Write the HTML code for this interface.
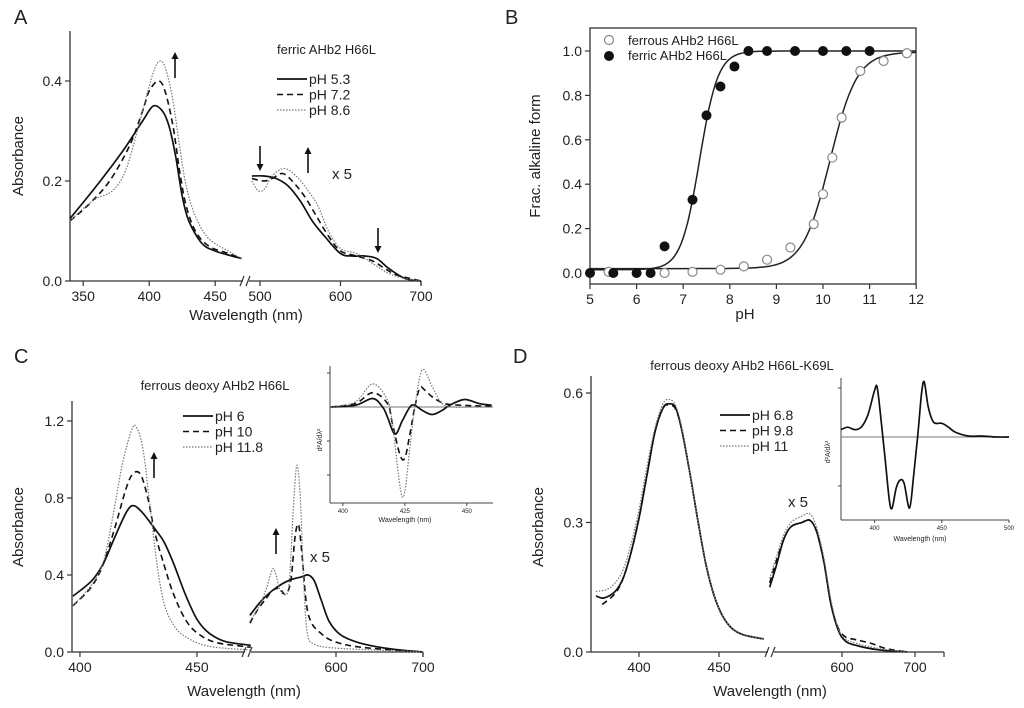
<!DOCTYPE html>
<html><head><meta charset="utf-8"><style>
html,body{margin:0;padding:0;background:#fff}
svg{display:block}
text{font-family:"Liberation Sans",Arial,sans-serif;fill:#222}
</style></head><body>
<svg id="fig" width="1024" height="708" viewBox="0 0 1024 708" xmlns="http://www.w3.org/2000/svg"></svg>
<script>
// ---------- DATA ----------
// Panel A (ferric AHb2 H66L)
const aSolidLx=[340,360,380,395,403,410,415,420,425,430,440,450,460,470];
const aSolidLy=[0.125,0.19,0.26,0.32,0.35,0.34,0.31,0.25,0.17,0.12,0.075,0.06,0.052,0.045];
const aDashLx=[340,355,370,385,395,400,407,412,418,423,428,435,445,460,470];
const aDashLy=[0.12,0.155,0.2,0.27,0.34,0.38,0.40,0.38,0.31,0.22,0.15,0.10,0.07,0.055,0.045];
const aDotLx=[340,350,360,372,382,392,400,405,409,413,418,423,428,435,445,460,470];
const aDotLy=[0.12,0.145,0.165,0.18,0.22,0.31,0.39,0.43,0.44,0.42,0.36,0.27,0.19,0.13,0.085,0.06,0.045];
const aSolidRx=[490,505,520,535,550,565,580,600,615,630,645,660,680,700];
const aSolidRy=[0.21,0.21,0.205,0.19,0.16,0.12,0.09,0.055,0.05,0.05,0.045,0.025,0.005,0];
const aDashRx=[490,505,515,528,540,555,570,585,600,620,640,655,670,700];
const aDashRy=[0.205,0.2,0.205,0.215,0.2,0.17,0.13,0.09,0.06,0.05,0.04,0.025,0.012,0];
const aDotRx=[490,498,506,515,530,545,560,572,585,600,620,640,660,680,700];
const aDotRy=[0.2,0.18,0.185,0.21,0.225,0.21,0.18,0.15,0.10,0.065,0.055,0.035,0.015,0.005,0];
// Panel B
const bFerricPH=[5,5.5,6,6.3,6.6,7.2,7.5,7.8,8.1,8.4,8.8,9.4,10,10.5,11];
const bFerricFrac=[0,0,0,0,0.12,0.33,0.71,0.84,0.93,1,1,1,1,1,1];
const bFerrousPH=[5.4,6.6,7.2,7.8,8.3,8.8,9.3,9.8,10,10.2,10.4,10.8,11.3,11.8];
const bFerrousFrac=[0.005,0,0.005,0.015,0.03,0.06,0.115,0.22,0.355,0.52,0.70,0.91,0.955,0.99];
const bFerricFit=[7.35,2.2,0.015,1.0];   // pKa, n, bottom, top
const bFerrousFit=[10.15,1.5,0.02,0.995];
// Panel C
const cSolidLx=[397,405,410,415,420,423,427,432,436,440,445,450,455,462,473];
const cSolidLy=[0.29,0.37,0.46,0.6,0.73,0.76,0.72,0.64,0.57,0.46,0.3,0.17,0.1,0.055,0.035];
const cDashLx=[397,405,410,415,420,423,426,429,432,436,440,445,450,458,473];
const cDashLy=[0.24,0.34,0.46,0.65,0.86,0.93,0.92,0.8,0.62,0.45,0.3,0.17,0.1,0.05,0.025];
const cDotLx=[397,405,410,414,418,422,424,427,430,433,436,440,445,455,473];
const cDotLy=[0.24,0.35,0.47,0.7,0.97,1.15,1.17,1.05,0.75,0.45,0.25,0.14,0.08,0.03,0.01];
const cSolidRx=[501,515,530,545,560,568,575,583,592,605,625,650,675,700];
const cSolidRy=[0.19,0.27,0.33,0.37,0.39,0.4,0.37,0.27,0.16,0.09,0.05,0.025,0.01,0];
const cDashRx=[501,510,520,527,535,542,548,553,557,561,566,572,582,595,620,660,700];
const cDashRy=[0.15,0.22,0.28,0.32,0.33,0.3,0.37,0.6,0.66,0.5,0.25,0.15,0.1,0.06,0.03,0.012,0];
const cDotRx=[501,512,520,527,531,535,540,546,551,555,559,563,567,575,600,650,700];
const cDotRy=[0.16,0.24,0.33,0.43,0.4,0.33,0.3,0.35,0.75,0.97,0.8,0.35,0.1,0.04,0.02,0.01,0];
// Panel C inset (second derivative, tick units)
const ciSolidX=[395,405,412,416,418,421,424,427,429,432,436,440,443,449,455,460];
const ciSolidY=[0,0.05,0.25,0,-0.3,-0.8,-0.4,0,0.05,-0.1,-0.22,-0.1,0.05,0.22,0.1,0.05];
const ciDashX=[395,405,412,418,420,423,425,427,429,431,433,436,441,448,460];
const ciDashY=[0,0.1,0.42,0.1,-0.5,-1.4,-1.5,-0.8,0,0.56,0.5,0.3,0.1,0.05,0.02];
const ciDotX=[395,405,412,418,420,424,427,429,432,436,440,445,452,460];
const ciDotY=[0,0.15,0.68,0.2,-0.5,-2.65,-1.2,0,1.09,0.6,0.1,0,0,0];
// Panel D
const dSolidLx=[373,378,385,390,395,400,405,410,415,419,423,427,432,437,442,447,452,458,465,478];
const dSolidLy=[0.13,0.125,0.14,0.17,0.23,0.31,0.41,0.51,0.565,0.575,0.565,0.51,0.41,0.3,0.2,0.13,0.085,0.055,0.04,0.03];
const dDashLx=[377,385,390,395,400,405,410,415,419,423,427,432,437,442,447,452,458,465,478];
const dDashLy=[0.11,0.135,0.17,0.23,0.31,0.41,0.51,0.565,0.572,0.562,0.51,0.41,0.3,0.2,0.13,0.085,0.055,0.04,0.03];
const dDotLx=[373,380,385,390,395,400,405,410,415,419,423,427,432,437,442,447,452,458,465,478];
const dDotLy=[0.14,0.145,0.16,0.19,0.25,0.33,0.43,0.52,0.575,0.585,0.57,0.515,0.41,0.3,0.2,0.13,0.085,0.055,0.04,0.03];
const dSolidRx=[501,510,520,530,545,556,565,575,585,595,605,620,650,690];
const dSolidRy=[0.15,0.2,0.26,0.29,0.30,0.305,0.28,0.21,0.11,0.05,0.025,0.015,0.005,0];
const dDashRx=[501,510,520,530,545,556,565,575,585,595,605,620,640,660,690];
const dDashRy=[0.16,0.21,0.26,0.29,0.30,0.305,0.28,0.21,0.11,0.055,0.035,0.028,0.02,0.008,0];
const dDotRx=[501,510,520,530,545,556,565,575,585,595,605,620,650,690];
const dDotRy=[0.17,0.22,0.27,0.3,0.315,0.32,0.29,0.22,0.12,0.055,0.03,0.02,0.008,0];
// Panel D inset
const diX=[375,380,385,390,395,400,402,405,408,411,413,416,419,422,426,429,432,435,437,440,444,450,455,460,470,480,490,500];
const diY=[0.15,0.2,0.15,0.2,0.45,0.95,1.0,0.3,-0.5,-1.3,-1.45,-1.05,-0.88,-0.95,-1.45,-0.8,0,0.9,1.12,0.6,0.3,0.28,0.2,0.1,0.02,0.02,0,0];
// Tick labels
const aXTicks=[350,400,450,500,600,700];
const aYTicks=[0,0.2,0.4];
const bXTicks=[5,6,7,8,9,10,11,12];
const bYTicks=[0,0.2,0.4,0.6,0.8,1.0];
const cXTicks=[400,450,600,700];
const cYTicks=[0,0.4,0.8,1.2];
const dXTicks=[400,450,600,700];
const dYTicks=[0,0.3,0.6];

// ---------- DRAW ----------
const NS='http://www.w3.org/2000/svg';
const svg=document.getElementById('fig');
function el(tag,attrs,parent){const e=document.createElementNS(NS,tag);for(const k in attrs)e.setAttribute(k,attrs[k]);(parent||svg).appendChild(e);return e;}
function txt(x,y,s,size,anchor,parent,rot){const t=el('text',{x:x,y:y,'font-size':size,'text-anchor':anchor||'start'},parent);if(rot)t.setAttribute('transform','rotate(-90 '+x+' '+y+')');t.textContent=s;return t;}
function smooth(pts){let d='M'+pts[0][0].toFixed(1)+','+pts[0][1].toFixed(1);for(let i=0;i<pts.length-1;i++){const p0=pts[i-1]||pts[i],p1=pts[i],p2=pts[i+1],p3=pts[i+2]||p2;const c1=[p1[0]+(p2[0]-p0[0])/6,p1[1]+(p2[1]-p0[1])/6],c2=[p2[0]-(p3[0]-p1[0])/6,p2[1]-(p3[1]-p1[1])/6];d+='C'+c1[0].toFixed(1)+','+c1[1].toFixed(1)+' '+c2[0].toFixed(1)+','+c2[1].toFixed(1)+' '+p2[0].toFixed(1)+','+p2[1].toFixed(1);}return d;}
const STY={solid:{stroke:'#111','stroke-width':1.7},dash:{stroke:'#111','stroke-width':1.6,'stroke-dasharray':'6,4'},dot:{stroke:'#777','stroke-width':1.2,'stroke-dasharray':'1.5,1.5'}};
function curve(xs,ys,fx,fy,style,name){const pts=xs.map((x,i)=>[fx(x),fy(ys[i])]);const a=Object.assign({d:smooth(pts),fill:'none'},STY[style]);const p=el('path',a);

return p;}
function arrow(x,y1,y2,name){const g=el('g',{});


const dir=y2<y1?-1:1;el('line',{x1:x,y1:y1,x2:x,y2:y2-dir*6,stroke:'#111','stroke-width':1.6},g);el('polygon',{points:(x-3.5)+','+(y2-dir*7)+' '+(x+3.5)+','+(y2-dir*7)+' '+x+','+y2,fill:'#111'},g);}
function legend(x,y,labels,styles,prefix){labels.forEach((l,i)=>{const g=el('g',{});


el('line',Object.assign({x1:x,y1:y+i*15.5,x2:x+30,y2:y+i*15.5},STY[styles[i]]),g);txt(x+32,y+i*15.5+5,l,14,'start',g);});}
function brokenAxis(o){ // o: x0,x1,y0,yTop,brk,fx,xt,fy,yt,yFmt
 const g=el('g',{});
 
 
 el('line',{x1:o.x0,y1:o.yTop,x2:o.x0,y2:o.y0,stroke:'#333','stroke-width':1.3},g);
 el('line',{x1:o.x0,y1:o.y0,x2:o.brk-3,y2:o.y0,stroke:'#333','stroke-width':1.3},g);
 el('line',{x1:o.brk+3,y1:o.y0,x2:o.x1,y2:o.y0,stroke:'#333','stroke-width':1.3},g);
 el('line',{x1:o.brk-6,y1:o.y0+5,x2:o.brk-2,y2:o.y0-5,stroke:'#333','stroke-width':1.2},g);
 el('line',{x1:o.brk,y1:o.y0+5,x2:o.brk+4,y2:o.y0-5,stroke:'#333','stroke-width':1.2},g);
 o.xt.forEach(v=>{const x=o.fx(v);el('line',{x1:x,y1:o.y0,x2:x,y2:o.y0+5,stroke:'#333','stroke-width':1.2},g);txt(x,o.y0+20,String(v),14,'middle',g);});
 el('line',{x1:o.x1,y1:o.y0,x2:o.x1,y2:o.y0+5,stroke:'#333','stroke-width':1.2},g);
 o.yt.forEach(v=>{const y=o.fy(v);el('line',{x1:o.x0-5,y1:y,x2:o.x0,y2:y,stroke:'#333','stroke-width':1.2},g);txt(o.x0-8,y+5,v.toFixed(1),14,'end',g);});
}

// ---- Panel A ----
const aFx=v=>v<=480?70+(v-340)*1.32:260+(v-500)*0.805;
const aFy=v=>281-v*500;
txt(14,24,'A',20,'start');
brokenAxis({name:'panel-a',x0:70,x1:421,y0:281,yTop:31,brk:246,fx:aFx,xt:aXTicks,fy:aFy,yt:aYTicks});
txt(23,156,'Absorbance',15,'middle',null,true);
txt(246,320,'Wavelength (nm)',15,'middle');
txt(277,54,'ferric AHb2 H66L',13,'start');
legend(277,79,['pH 5.3','pH 7.2','pH 8.6'],['solid','dash','dot'],'panel-a');
curve(aSolidLx,aSolidLy,aFx,aFy,'solid','a-ph53-soret');curve(aDashLx,aDashLy,aFx,aFy,'dash','a-ph72-soret');curve(aDotLx,aDotLy,aFx,aFy,'dot','a-ph86-soret');
curve(aSolidRx,aSolidRy,aFx,aFy,'solid','a-ph53-visible');curve(aDashRx,aDashRy,aFx,aFy,'dash','a-ph72-visible');curve(aDotRx,aDotRy,aFx,aFy,'dot','a-ph86-visible');
arrow(175,78,52,'a-arrow-soret');arrow(260,146,171,'a-arrow-500');arrow(308,173,147,'a-arrow-535');arrow(378,228,253,'a-arrow-640');
txt(332,179,'x 5',15,'start');

// ---- Panel B ----
const bFx=v=>590+(v-5)*46.6;
const bFy=v=>273-v*222;
txt(505,24,'B',20,'start');
(function(){const g=el('g',{});


el('rect',{x:590,y:28,width:326,height:256,fill:'none',stroke:'#333','stroke-width':1.3},g);
bXTicks.forEach(v=>{const x=bFx(v);el('line',{x1:x,y1:284,x2:x,y2:289,stroke:'#333','stroke-width':1.2},g);txt(x,304,String(v),14,'middle',g);});
bYTicks.forEach(v=>{const y=bFy(v);el('line',{x1:585,y1:y,x2:590,y2:y,stroke:'#333','stroke-width':1.2},g);txt(582,y+5,v.toFixed(1),14,'end',g);});})();
txt(540,156,'Frac. alkaline form',15,'middle',null,true);
txt(745,319,'pH',15,'middle');
function fit(p,x){return p[2]+(p[3]-p[2])/(1+Math.pow(10,p[1]*(p[0]-x)));}
function fitPath(p,name){let d='';for(let x=5;x<=12.001;x+=0.05){d+=(d?'L':'M')+bFx(x).toFixed(1)+','+bFy(fit(p,x)).toFixed(1);}const e=el('path',{d:d,fill:'none',stroke:'#222','stroke-width':1.5});

}
fitPath(bFerricFit,'ferric-fit-curve');fitPath(bFerrousFit,'ferrous-fit-curve');
bFerrousPH.forEach((x,i)=>{const c=el('circle',{cx:bFx(x),cy:bFy(bFerrousFrac[i]),r:4.5,fill:'#fff',stroke:'#888','stroke-width':1.2});

});
bFerricPH.forEach((x,i)=>{const c=el('circle',{cx:bFx(x),cy:bFy(bFerricFrac[i]),r:5,fill:'#111'});

});
(function(){const g=el('g',{});


el('circle',{cx:609,cy:40,r:4.5,fill:'#fff',stroke:'#888','stroke-width':1.2},g);txt(628,45,'ferrous AHb2 H66L',13,'start',g);
el('circle',{cx:609,cy:56,r:5,fill:'#111'},g);txt(628,60,'ferric AHb2 H66L',13,'start',g);})();

// ---- Panel C ----
const cFx=v=>v<=480?72+(v-396.6)*2.34:336+(v-600)*0.87;
const cFy=v=>652-v*192.5;
txt(14,363,'C',20,'start');
brokenAxis({name:'panel-c',x0:72,x1:423,y0:652,yTop:401,brk:248,fx:cFx,xt:cXTicks,fy:cFy,yt:cYTicks});
txt(23,527,'Absorbance',15,'middle',null,true);
txt(244,696,'Wavelength (nm)',15,'middle');
txt(215,390,'ferrous deoxy AHb2 H66L',13,'middle');
legend(183,416,['pH 6','pH 10','pH 11.8'],['solid','dash','dot'],'panel-c');
curve(cSolidLx,cSolidLy,cFx,cFy,'solid','c-ph6-soret');curve(cDashLx,cDashLy,cFx,cFy,'dash','c-ph10-soret');curve(cDotLx,cDotLy,cFx,cFy,'dot','c-ph118-soret');
curve(cSolidRx,cSolidRy,cFx,cFy,'solid','c-ph6-visible');curve(cDashRx,cDashRy,cFx,cFy,'dash','c-ph10-visible');curve(cDotRx,cDotRy,cFx,cFy,'dot','c-ph118-visible');
arrow(154,478,452,'c-arrow-soret');arrow(276,554,528,'c-arrow-visible');
txt(310,562,'x 5',15,'start');
// inset C
const ciFx=v=>330+(v-394.8)*2.48;
const ciFy=v=>407-v*34;
(function(){const g=el('g',{});


el('line',{x1:330,y1:366,x2:330,y2:503,stroke:'#444','stroke-width':1},g);
el('line',{x1:330,y1:503,x2:493,y2:503,stroke:'#444','stroke-width':1},g);
el('line',{x1:330,y1:407,x2:493,y2:407,stroke:'#777','stroke-width':1},g);
[400,425,450].forEach(v=>{const x=ciFx(v);el('line',{x1:x,y1:503,x2:x,y2:506,stroke:'#444'},g);txt(x,513,String(v),6,'middle',g);});
[1,-1,-2].forEach(v=>{el('line',{x1:327,y1:ciFy(v),x2:330,y2:ciFy(v),stroke:'#444'},g);});
txt(405,522,'Wavelength (nm)',7,'middle',g);
txt(322,440,'d²A/dλ²',7,'middle',g,true);})();
curve(ciSolidX,ciSolidY,ciFx,ciFy,'solid','c-inset-ph6');curve(ciDashX,ciDashY,ciFx,ciFy,'dash','c-inset-ph10');curve(ciDotX,ciDotY,ciFx,ciFy,'dot','c-inset-ph118');

// ---- Panel D ----
const dFx=v=>v<=490?639+(v-400)*1.6:842+(v-600)*0.73;
const dFy=v=>652-v*431.7;
txt(513,363,'D',20,'start');
brokenAxis({name:'panel-d',x0:591,x1:944,y0:652,yTop:376,brk:771,fx:dFx,xt:dXTicks,fy:dFy,yt:dYTicks});
txt(543,527,'Absorbance',15,'middle',null,true);
txt(770,696,'Wavelength (nm)',15,'middle');
txt(742,370,'ferrous deoxy AHb2 H66L-K69L',13,'middle');
legend(720,415,['pH 6.8','pH 9.8','pH 11'],['solid','dash','dot'],'panel-d');
curve(dSolidLx,dSolidLy,dFx,dFy,'solid','d-ph68-soret');curve(dDashLx,dDashLy,dFx,dFy,'dash','d-ph98-soret');curve(dDotLx,dDotLy,dFx,dFy,'dot','d-ph11-soret');
curve(dSolidRx,dSolidRy,dFx,dFy,'solid','d-ph68-visible');curve(dDashRx,dDashRy,dFx,dFy,'dash','d-ph98-visible');curve(dDotRx,dDotRy,dFx,dFy,'dot','d-ph11-visible');
txt(788,507,'x 5',15,'start');
// inset D
const diFx=v=>841+(v-375)*1.344;
const diFy=v=>437-v*49;
(function(){const g=el('g',{});


el('line',{x1:841,y1:378,x2:841,y2:520,stroke:'#444','stroke-width':1},g);
el('line',{x1:841,y1:520,x2:1009,y2:520,stroke:'#444','stroke-width':1},g);
el('line',{x1:841,y1:437,x2:1009,y2:437,stroke:'#777','stroke-width':1},g);
[400,450,500].forEach(v=>{const x=diFx(v);el('line',{x1:x,y1:520,x2:x,y2:523,stroke:'#444'},g);txt(x,530,String(v),6,'middle',g);});
[1,-1].forEach(v=>{el('line',{x1:838,y1:diFy(v),x2:841,y2:diFy(v),stroke:'#444'},g);});
txt(920,541,'Wavelength (nm)',7,'middle',g);
txt(830,452,'d²A/dλ²',7,'middle',g,true);})();
curve(diX,diY,diFx,diFy,'solid','d-inset-curve');
</script>
</body></html>
